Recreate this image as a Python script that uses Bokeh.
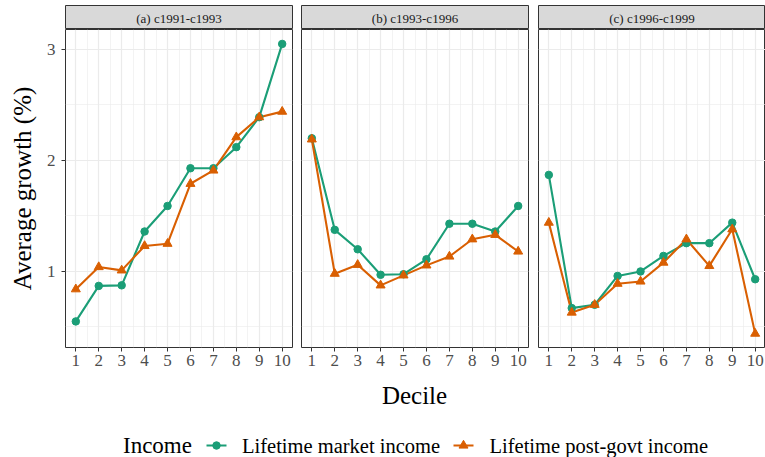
from bokeh.plotting import figure
from bokeh.layouts import row, column
from bokeh.models import Range1d, FixedTicker, ColumnDataSource
from bokeh.embed import file_html
from bokeh.resources import INLINE
from bokeh.core.properties import value

# ---- data -------------------------------------------------------------
deciles = list(range(1, 11))
panel_titles = ["(a) c1991-c1993", "(b) c1993-c1996", "(c) c1996-c1999"]

market_a = [0.55, 0.87, 0.875, 1.36, 1.59, 1.93, 1.93, 2.12, 2.39, 3.05]
post_a = [0.84, 1.04, 1.01, 1.23, 1.25, 1.79, 1.91, 2.21, 2.39, 2.44]

market_b = [2.20, 1.375, 1.20, 0.97, 0.975, 1.11, 1.43, 1.43, 1.36, 1.59]
post_b = [2.19, 0.98, 1.06, 0.875, 0.965, 1.055, 1.135, 1.29, 1.33, 1.18]

market_c = [1.87, 0.67, 0.70, 0.96, 1.00, 1.14, 1.255, 1.255, 1.44, 0.93]
post_c = [1.44, 0.63, 0.70, 0.89, 0.91, 1.08, 1.29, 1.05, 1.38, 0.44]

series_names = ["Lifetime market income", "Lifetime post-govt income"]
legend_title = "Income"
x_title = "Decile"
y_title = "Average growth (%)"
y_ticks = [1, 2, 3]
y_minor = [0.5, 1.5, 2.5]
x_minor = [d + 0.5 for d in deciles[:-1]]

# ---- style ------------------------------------------------------------
FONT_NAME = "Liberation Serif"
FONT = value(FONT_NAME)
GREEN = "#1B9E77"
ORANGE = "#D95F02"
BORDER = "#333333"
GRID = "#EBEBEB"
FRAME_W = 227
FRAME_H = 318

# (left border, right border) per panel column
borders = [(65, 8), (1, 9), (1, 0)]

y_range = Range1d(0.315, 3.18)


def strip(title, left, right):
    s = figure(width=left + FRAME_W + right, height=29,
               x_range=Range1d(0, 1), y_range=Range1d(0, 1),
               min_border_left=left, min_border_right=right,
               min_border_top=5, min_border_bottom=0,
               x_axis_location=None, y_axis_location=None,
               toolbar_location=None, output_backend="svg")
    s.grid.visible = False
    s.background_fill_color = "#D9D9D9"
    s.border_fill_color = "white"
    s.outline_line_color = BORDER
    s.outline_line_width = 1
    s.text(x=[0.5], y=[0.47], text=[title], text_align="center",
           text_baseline="middle", text_font=FONT,
           text_font_size="13px", text_color="#1A1A1A")
    return s


def panel(market, post, left, right, show_y):
    p = figure(width=left + FRAME_W + right, height=FRAME_H + 30,
               x_range=Range1d(0.55, 10.45), y_range=y_range,
               min_border_left=left, min_border_right=right,
               min_border_top=0, min_border_bottom=30,
               y_axis_location="left" if show_y else None,
               toolbar_location=None, output_backend="svg")
    p.background_fill_color = "white"
    p.border_fill_color = "white"
    p.outline_line_color = BORDER
    p.outline_line_width = 1

    # grids
    p.xgrid.ticker = FixedTicker(ticks=deciles, minor_ticks=x_minor)
    p.ygrid.ticker = FixedTicker(ticks=y_ticks, minor_ticks=y_minor)
    for g in (p.xgrid, p.ygrid):
        g.grid_line_color = GRID
        g.grid_line_width = 1.2
        g.minor_grid_line_color = GRID
        g.minor_grid_line_width = 0.6

    # x axis
    xa = p.xaxis[0]
    xa.ticker = FixedTicker(ticks=deciles)
    xa.axis_line_color = None
    xa.major_tick_line_color = BORDER
    xa.major_tick_in = 0
    xa.major_tick_out = 4
    xa.minor_tick_line_color = None
    xa.major_label_standoff = 3
    xa.major_label_text_font = FONT_NAME
    xa.major_label_text_font_size = "17px"
    xa.major_label_text_color = "#4D4D4D"

    if show_y:
        ya = p.yaxis[0]
        ya.ticker = FixedTicker(ticks=y_ticks)
        ya.axis_line_color = None
        ya.major_tick_line_color = BORDER
        ya.major_tick_in = 0
        ya.major_tick_out = 4
        ya.minor_tick_line_color = None
        ya.major_label_standoff = 6
        ya.major_label_text_font = FONT_NAME
        ya.major_label_text_font_size = "17px"
        ya.major_label_text_color = "#4D4D4D"
        ya.axis_label = y_title
        ya.axis_label_text_font = FONT_NAME
        ya.axis_label_text_font_size = "25px"
        ya.axis_label_text_font_style = "normal"
        ya.axis_label_text_color = "black"
        ya.axis_label_standoff = 8

    src = ColumnDataSource(dict(decile=deciles, market=market, post=post))
    p.line("decile", "market", source=src, line_color=GREEN, line_width=2.1)
    p.line("decile", "post", source=src, line_color=ORANGE, line_width=2.1)
    p.scatter("decile", "market", source=src, marker="circle", size=7.5,
              fill_color=GREEN, line_color=GREEN)
    p.scatter("decile", "post", source=src, marker="triangle", size=9,
              fill_color=ORANGE, line_color=ORANGE)
    return p


series = [(market_a, post_a), (market_b, post_b), (market_c, post_c)]

strips = [strip(t, l, r) for t, (l, r) in zip(panel_titles, borders)]
panels = [panel(m, q, l, r, i == 0)
          for i, ((m, q), (l, r)) in enumerate(zip(series, borders))]

# ---- x title and legend, laid out in a pixel-scaled strip --------------
bottom = figure(width=765, height=80, x_range=Range1d(0, 765),
                y_range=Range1d(80, 0), min_border=0,
                x_axis_location=None, y_axis_location=None,
                toolbar_location=None, output_backend="svg")
bottom.grid.visible = False
bottom.outline_line_color = None
bottom.background_fill_color = "white"
bottom.border_fill_color = "white"

bottom.text(x=[414], y=[18], text=[x_title], text_align="center",
            text_baseline="middle", text_font=FONT, text_font_size="25px",
            text_color="black")

LEG_MID = 68    # vertical centre of the legend row
bottom.text(x=[122.5], y=[LEG_MID], text=[legend_title], text_align="left",
            text_baseline="middle", text_font=FONT,
            text_font_size="23px", text_color="black")

key_x = [216, 463]
label_x = [241.5, 489]
colors = [GREEN, ORANGE]
markers = ["circle", "triangle"]
msizes = [7.5, 9]
for kx, lx, c, mk, ms, name in zip(key_x, label_x, colors, markers, msizes,
                                   series_names):
    bottom.segment(x0=[kx - 10], y0=[LEG_MID], x1=[kx + 10], y1=[LEG_MID],
                   line_color=c, line_width=2.1)
    bottom.scatter(x=[kx], y=[LEG_MID], marker=mk, size=ms, fill_color=c,
                   line_color=c)
    bottom.text(x=[lx], y=[LEG_MID], text=[name], text_align="left",
                text_baseline="middle", text_font=FONT,
                text_font_size="20.5px", text_color="black")

layout = column(row(*strips, spacing=0), row(*panels, spacing=0), bottom,
                spacing=0)

open("out.html", "w").write(file_html(layout, INLINE))
